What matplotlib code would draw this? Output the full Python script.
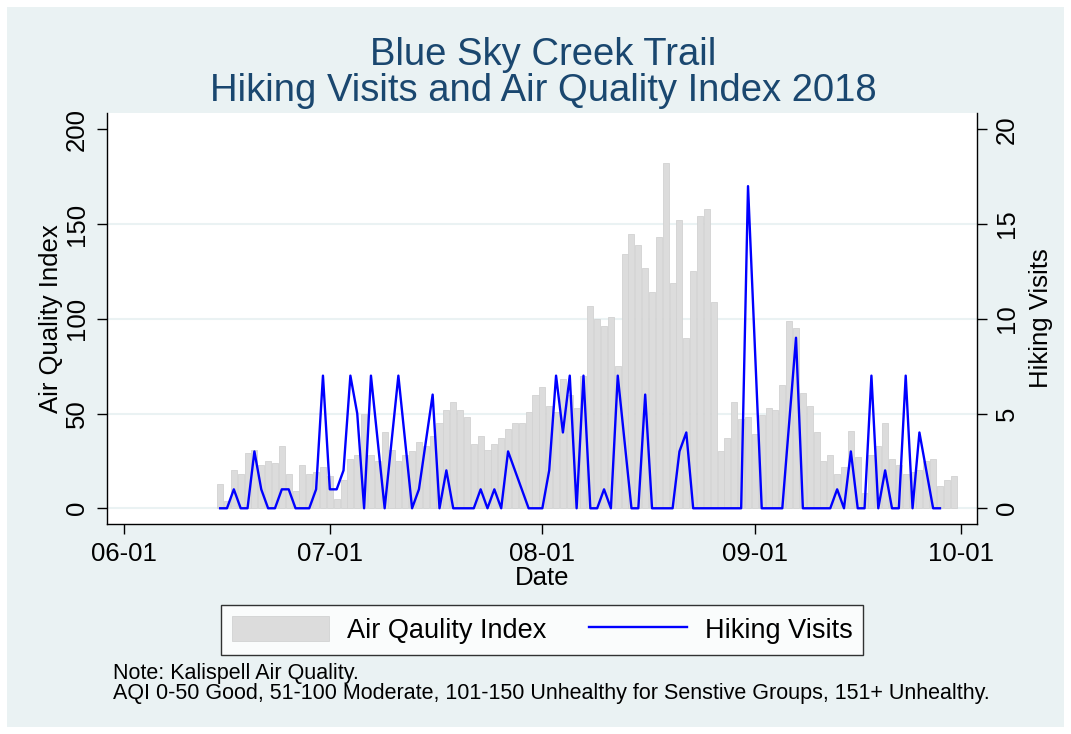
import numpy as np
import pandas as pd
import matplotlib
matplotlib.use("Agg")
import matplotlib.pyplot as plt
import matplotlib.dates as mdates
from matplotlib.patches import Rectangle

plt.rcParams['font.family'] = ['Liberation Sans', 'DejaVu Sans']

# daily AQI, 2018-06-15 .. 2018-09-30
aqi_start = "2018-06-15"
aqi = [13, 4, 20, 18, 29, 31, 23, 25, 24, 33, 18, 9, 23, 18, 19, 22,
       17, 5, 15, 26, 28, 50, 28, 25, 40, 31, 25, 28, 30, 35, 33, 38, 45, 52, 56, 52,
       48, 34, 38, 31, 34, 37, 42, 45, 45, 51, 60,
       64, 54, 51, 68, 60, 53, 70, 107, 100, 96, 101, 75, 134, 145, 139, 127, 114,
       143, 182, 119, 152, 90, 125, 154, 158, 109, 30, 37, 56, 47, 48,
       39, 49, 53, 52, 65, 99, 95, 61, 54, 40, 25, 28, 18, 22, 41, 27, 8, 28, 33,
       45, 26, 23, 18, 19, 20, 25, 26, 12, 15, 17]

# daily hiking visits, 2018-06-15 .. 2018-09-28
visits_start = "2018-06-15"
visits = [0, 0, 1, 0, 0, 3, 1, 0, 0, 1, 1, 0, 0, 0, 1, 7,
          1, 1, 2, 7, 5, 0, 7, 3.5, 0, 3.5, 7, 3.5, 0, 1, 3.5, 6, 0, 2, 0, 0,
          0, 0, 1, 0, 1, 0, 3, 2, 1, 0, 0,
          0, 2, 7, 4, 7, 0, 7, 0, 0, 1, 0, 7, 3.5, 0, 0, 6, 0,
          0, 0, 0, 3, 4, 0, 0, 0, 0, 0, 0, 0, 0, 17,
          8.5, 0, 0, 0, 0, 4.5, 9, 0, 0, 0, 0, 0, 1, 0, 3, 0, 0, 7, 0,
          2, 0, 0, 7, 0, 4, 2, 0, 0]

month_ticks = ["2018-06-01", "2018-07-01", "2018-08-01", "2018-09-01", "2018-10-01"]
aqi_ticks = [0, 50, 100, 150, 200]
visit_ticks = [0, 5, 10, 15, 20]

aqi_dates = pd.date_range(aqi_start, periods=len(aqi), freq="D")
visit_dates = pd.date_range(visits_start, periods=len(visits), freq="D")

bg = '#eaf2f3'
navy = '#1a476f'

fig = plt.figure(figsize=(10.71, 7.34), dpi=100, facecolor='white')
fig.patches.append(Rectangle((7/1071, 7/734), 1-14/1071, 1-14/734,
                             transform=fig.transFigure, facecolor=bg,
                             edgecolor='none', zorder=-10))

ax = fig.add_axes([107/1071, 1-524/734, 870/1071, 411/734])
ax.set_facecolor('white')
bars = ax.bar(aqi_dates, aqi, width=0.88, color='#dcdcdc', edgecolor='#d2d2d2',
              linewidth=0.6, label='Air Qaulity Index', zorder=2)
ax.set_ylim(-8.3, 208.6)
ax.set_xlim(mdates.datestr2num("2018-06-01") - 2.5,
            mdates.datestr2num("2018-10-01") + 2.4)
ax.set_yticks(aqi_ticks)
for y in aqi_ticks[:-1]:
    ax.axhline(y, color=bg, lw=1.5, zorder=1)

ax2 = ax.twinx()
line, = ax2.plot(visit_dates, visits, color='#0000ff', lw=1.7, label='Hiking Visits')
ax2.set_ylim(-0.83, 20.86)
ax2.set_yticks(visit_ticks)

ax.set_xticks(pd.to_datetime(month_ticks))
ax.xaxis.set_major_formatter(mdates.DateFormatter('%m-%d'))

fs = 18.5
for a in (ax, ax2):
    a.spines['top'].set_visible(False)
    for s in a.spines.values():
        s.set_linewidth(1.0)
    a.tick_params(length=7, width=1.0, labelsize=fs, pad=6)
ax.spines['right'].set_visible(False)
ax2.spines['left'].set_visible(False)
ax2.spines['bottom'].set_visible(False)

for lab in ax.get_yticklabels():
    lab.set_rotation(90)
    lab.set_va('center')
for lab in ax2.get_yticklabels():
    lab.set_rotation(90)
    lab.set_va('center')

ax.set_xlabel('Date', fontsize=fs, labelpad=0)
ax.set_ylabel('Air Quality Index', fontsize=fs)
ax.yaxis.set_label_coords(-0.051, 0.5)
ax2.set_ylabel('Hiking Visits', fontsize=fs, labelpad=7)

fig.text(0.507, 1-55/734, 'Blue Sky Creek Trail', ha='center', va='center',
         fontsize=27.5, color=navy)
fig.text(0.507, 1-91/734, 'Hiking Visits and Air Quality Index 2018', ha='center',
         va='center', fontsize=27.5, color=navy)

leg = fig.legend([bars, line], ['Air Qaulity Index', 'Hiking Visits'],
                 loc='center', bbox_to_anchor=(542/1071, 1-630/734), ncol=2,
                 fontsize=19.5, frameon=True, fancybox=False, edgecolor='black',
                 handlelength=3.6, handleheight=1.0, handletextpad=0.65,
                 columnspacing=1.6, borderpad=0.4)
leg.get_frame().set_linewidth(1.0)

fig.text(113/1071, 1-673/734, 'Note: Kalispell Air Quality.', fontsize=15.5,
         va='center', ha='left')
fig.text(113/1071, 1-694/734,
         'AQI 0-50 Good, 51-100 Moderate, 101-150 Unhealthy for Senstive Groups, 151+ Unhealthy.',
         fontsize=15.5, va='center', ha='left')

fig.savefig('out.png', dpi=100, facecolor=fig.get_facecolor())
